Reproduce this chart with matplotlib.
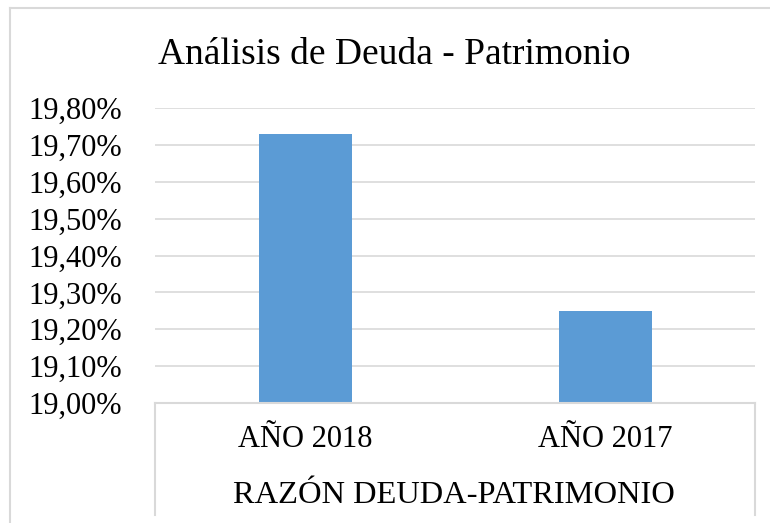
import matplotlib.pyplot as plt
from matplotlib.lines import Line2D

plt.rcParams['font.family'] = ['Liberation Serif', 'DejaVu Serif']

categories = ['AÑO 2018', 'AÑO 2017']
values = [19.73, 19.25]
group_label = 'RAZÓN DEUDA-PATRIMONIO'
title = 'Análisis de Deuda - Patrimonio'
yticks = [19.0, 19.1, 19.2, 19.3, 19.4, 19.5, 19.6, 19.7, 19.8]

W, H = 770, 523
fig = plt.figure(figsize=(W / 100, H / 100), dpi=100)
ax = fig.add_axes([155 / W, 1 - 403 / H, 600 / W, 295 / H])

x = list(range(len(categories)))
ax.bar(x, values, width=0.31, color='#5B9BD5', zorder=3)
ax.set_xlim(-0.5, len(categories) - 0.5)
ax.set_ylim(19.0, 19.8)
ax.set_yticks(yticks)
ax.set_yticklabels([('%.2f%%' % v).replace('.', ',') for v in yticks], fontsize=22)
ax.tick_params(axis='y', length=0, pad=24)
ax.set_xticks([])
ax.grid(axis='y', color='#D9D9D9', linewidth=1.2, zorder=0)
for s in ax.spines.values():
    s.set_visible(False)

# category axis box (multi-level labels)
gc = '#D9D9D9'
ax.plot([0, 1], [0, 0], transform=ax.transAxes, color=gc, lw=1.5, clip_on=False, zorder=4)
ax.plot([0, 0], [0, -0.38], transform=ax.transAxes, color=gc, lw=1.5, clip_on=False)
ax.plot([1, 1], [0, -0.38], transform=ax.transAxes, color=gc, lw=1.5, clip_on=False)
for i, c in enumerate(categories):
    ax.text(i, -0.125, c, transform=ax.get_xaxis_transform(), ha='center', va='center', fontsize=22)
ax.text(0.498, -0.312, group_label, transform=ax.transAxes, ha='center', va='center', fontsize=23.4)

# chart border
fig.add_artist(Line2D([10 / W, 10 / W], [0, 1 - 8 / H], color=gc, lw=1.5))
fig.add_artist(Line2D([10 / W, 1], [1 - 8 / H, 1 - 8 / H], color=gc, lw=1.5))

fig.text(394 / W, 1 - 55 / H, title, ha='center', va='center', fontsize=27)

fig.savefig('out.png', dpi=100)
